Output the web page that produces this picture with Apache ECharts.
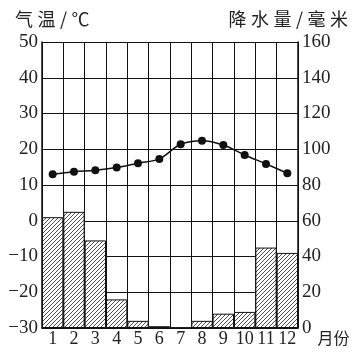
<!DOCTYPE html>
<html><head><meta charset="utf-8">
<script src="https://cdn.jsdelivr.net/npm/echarts@6/dist/echarts.min.js"></script>
<style>html,body{margin:0;padding:0;background:#fff}#c{width:356px;height:356px}</style>
</head><body><div id="c"></div>
<script>
const months = ['1','2','3','4','5','6','7','8','9','10','11','12'];
const temperature = [13.0, 13.7, 14.1, 14.9, 16.1, 17.3, 21.4, 22.4, 21.2, 18.4, 15.9, 13.3];
const precipitation = [62, 65, 49, 16, 4, 1, 0, 4, 8, 9, 45, 42];
const tempTicks = {min: -30, max: 50, interval: 10};
const precTicks = {min: 0, max: 160, interval: 20};
const tempTitle = '气\u2005温\u2005/\u2005℃';
const precTitle = '降\u2005水\u2005量\u2005/\u2005毫\u2005米';

const pc = document.createElement('canvas');
pc.width = 4; pc.height = 4;
const g = pc.getContext('2d');
g.fillStyle = '#fff'; g.fillRect(0,0,4,4);
g.strokeStyle = '#3a3a3a'; g.lineWidth = 0.9;
g.beginPath();
g.moveTo(-1,5); g.lineTo(5,-1);
g.moveTo(-1,1); g.lineTo(1,-1);
g.moveTo(3,5); g.lineTo(5,3);
g.stroke();

const serif = 'Liberation Serif';
const cjk = 'Noto Sans CJK SC';
const chart = echarts.init(document.getElementById('c'), null, {renderer:'canvas'});
chart.setOption({
  animation: false,
  grid: {left: 42, right: 58, top: 42, bottom: 28},
  xAxis: {
    type: 'category', data: months, boundaryGap: true,
    name: '月份', nameLocation: 'end', nameGap: 18,
    nameTextStyle: {fontFamily: cjk, fontSize: 16, color: '#222', verticalAlign: 'top', padding: [2,0,0,0]},
    axisLine: {onZero: false, lineStyle: {color: '#111', width: 1.5}},
    axisTick: {show: false},
    axisLabel: {fontFamily: serif, fontSize: 18, color: '#222', margin: 2, interval: 0, hideOverlap: false},
    splitLine: {show: true, interval: 0, lineStyle: {color: '#111', width: 1}}
  },
  yAxis: [{
    type: 'value', min: tempTicks.min, max: tempTicks.max, interval: tempTicks.interval,
    name: tempTitle, nameLocation: 'end', nameGap: 14,
    nameTextStyle: {fontFamily: cjk, fontSize: 18, color: '#222', align: 'left', padding: [0,0,0,-27]},
    axisLine: {show: true, lineStyle: {color: '#111', width: 1.5}},
    axisTick: {show: false},
    axisLabel: {fontFamily: serif, fontSize: 19, color: '#222', margin: 4,
      formatter: v => String(v).replace('-', '\u2212')},
    splitLine: {show: true, lineStyle: {color: '#111', width: 1}}
  },{
    type: 'value', min: precTicks.min, max: precTicks.max, interval: precTicks.interval,
    name: precTitle, nameLocation: 'end', nameGap: 14,
    nameTextStyle: {fontFamily: cjk, fontSize: 18, color: '#222', align: 'right', padding: [0,-50,0,0]},
    axisLine: {show: true, lineStyle: {color: '#111', width: 1.5}},
    axisTick: {show: false},
    axisLabel: {fontFamily: serif, fontSize: 19, color: '#222', margin: 4},
    splitLine: {show: false}
  }],
  series: [{
    type: 'bar', yAxisIndex: 1, data: precipitation,
    barCategoryGap: '0%',
    itemStyle: {color: {image: pc, repeat: 'repeat'}, borderColor: '#111', borderWidth: 1},
    z: 3
  },{
    type: 'line', yAxisIndex: 0, data: temperature, smooth: 0.35,
    symbol: 'circle', symbolSize: 8,
    lineStyle: {color: '#111', width: 1.5},
    itemStyle: {color: '#111'},
    z: 5
  }]
});
</script></body></html>
